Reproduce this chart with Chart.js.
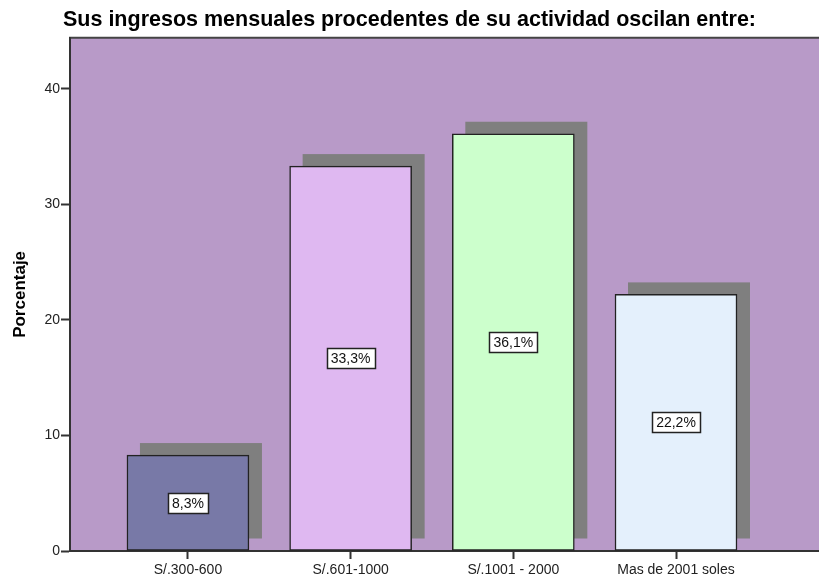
<!DOCTYPE html>
<html>
<head>
<meta charset="utf-8">
<script src="https://cdn.jsdelivr.net/npm/chart.js@4.4.0/dist/chart.umd.min.js"></script>
<style>
html,body{margin:0;padding:0;background:#fff;}
#wrap{width:819px;height:575px;position:relative;}
</style>
</head>
<body>
<div id="wrap"><canvas id="c" width="819" height="575"></canvas></div>
<script>
const titleText = "Sus ingresos mensuales procedentes de su actividad oscilan entre:";
const categories = ["S/.300-600", "S/.601-1000", "S/.1001 - 2000", "Mas de 2001 soles"];
const percentages = [8.3, 33.3, 36.1, 22.2];
const barColors = ["#7879a7", "#dfb8f1", "#ccffcc", "#e4f0fc"];
const yTicks = [0, 10, 20, 30, 40];
const yAxisTitle = "Porcentaje";

const FONT = "'Liberation Sans', Arial, sans-serif";

const plotBg = {
  id: 'plotBg',
  beforeDraw(chart) {
    const {ctx, chartArea: a} = chart;
    ctx.save();
    ctx.fillStyle = '#b89ac8';
    ctx.fillRect(a.left, a.top, a.right - a.left, a.bottom - a.top);
    ctx.strokeStyle = '#444';
    ctx.lineWidth = 2;
    ctx.beginPath();
    ctx.moveTo(a.right + 2, a.top);
    ctx.lineTo(a.left, a.top);
    ctx.lineTo(a.left, a.bottom);
    ctx.stroke();
    ctx.restore();
  }
};

const shadows = {
  id: 'shadows',
  beforeDatasetsDraw(chart) {
    const {ctx} = chart;
    const meta = chart.getDatasetMeta(0);
    ctx.save();
    ctx.fillStyle = '#7f7f7f';
    meta.data.forEach(el => {
      const w = el.width;
      const h = el.base - el.y;
      ctx.fillRect(el.x - w / 2 + 13, el.y - 12, w, h);
    });
    ctx.restore();
  }
};

const valueLabels = {
  id: 'valueLabels',
  afterDatasetsDraw(chart) {
    const {ctx} = chart;
    const meta = chart.getDatasetMeta(0);
    ctx.save();
    ctx.font = "14px " + FONT;
    ctx.textAlign = 'center';
    ctx.textBaseline = 'middle';
    meta.data.forEach((el, i) => {
      const txt = percentages[i].toFixed(1).replace('.', ',') + '%';
      const cy = (el.y + el.base) / 2;
      const tw = ctx.measureText(txt).width;
      const bw = Math.round(tw + 8), bh = 20;
      const bx = Math.round(el.x - bw / 2) + 0.5, by = Math.round(cy - bh / 2) + 0.5;
      ctx.fillStyle = '#fff';
      ctx.fillRect(bx, by, bw, bh);
      ctx.strokeStyle = '#222';
      ctx.lineWidth = 1.5;
      ctx.strokeRect(bx, by, bw, bh);
      ctx.fillStyle = '#111';
      ctx.fillText(txt, el.x, cy + 1);
    });
    ctx.restore();
  }
};

new Chart(document.getElementById('c'), {
  type: 'bar',
  data: {
    datasets: [{
      data: percentages.map((v, i) => ({x: i + 1, y: v})),
      backgroundColor: barColors,
      borderColor: '#222',
      borderWidth: 1.5,
      borderSkipped: false,
      barThickness: 122
    }]
  },
  plugins: [plotBg, shadows, valueLabels],
  options: {
    responsive: false,
    animation: false,
    layout: {padding: {top: 0, right: 0, bottom: 0, left: 0}},
    plugins: {
      legend: {display: false},
      tooltip: {enabled: false},
      title: {
        display: true,
        text: titleText,
        color: '#000',
        font: {family: FONT, size: 21.5, weight: 'bold'},
        padding: {top: 7, bottom: 5}
      }
    },
    scales: {
      x: {
        type: 'linear',
        offset: false,
        min: 0.275,
        max: 4.879,
        afterBuildTicks(scale) { scale.ticks = [1, 2, 3, 4].map(v => ({value: v})); },
        afterFit(scale) { scale.height = 24; },
        ticks: {
          callback: (v) => categories[v - 1],
          color: '#222',
          font: {family: FONT, size: 14},
          padding: 3,
          maxRotation: 0,
          autoSkip: false
        },
        grid: {offset: false, drawOnChartArea: false, drawTicks: true, tickLength: 8, tickColor: '#333', tickWidth: 2},
        border: {display: true, color: '#333', width: 2}
      },
      y: {
        min: 0,
        max: 44.4,
        afterBuildTicks(scale) { scale.ticks = yTicks.map(v => ({value: v})); },
        afterFit(scale) { scale.width = 70; },
        ticks: {
          color: '#222',
          font: {family: FONT, size: 14},
          padding: 1
        },
        grid: {drawOnChartArea: false, drawTicks: true, tickLength: 9, tickColor: '#333', tickWidth: 2},
        border: {display: true, color: '#333', width: 2},
        title: {
          display: true,
          text: yAxisTitle,
          color: '#000',
          font: {family: FONT, size: 17, weight: 'bold'},
          padding: {top: 10, bottom: 0}
        }
      }
    }
  }
});
</script>
</body>
</html>
